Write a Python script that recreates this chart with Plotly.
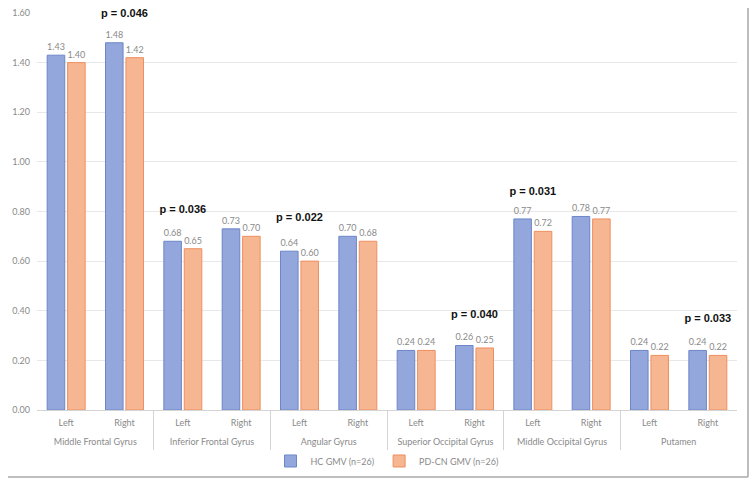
import plotly.graph_objects as go

regions = ["Middle Frontal Gyrus", "Inferior Frontal Gyrus", "Angular Gyrus",
           "Superior Occipital Gyrus", "Middle Occipital Gyrus", "Putamen"]
sides = ["Left", "Right"]
hc_gmv = [1.43, 1.48, 0.68, 0.73, 0.64, 0.70, 0.24, 0.26, 0.77, 0.78, 0.24, 0.24]
pd_gmv = [1.40, 1.42, 0.65, 0.70, 0.60, 0.68, 0.24, 0.25, 0.72, 0.77, 0.22, 0.22]
y_ticks = [0.0, 0.2, 0.4, 0.6, 0.8, 1.0, 1.2, 1.4, 1.6]

p_region = ["Middle Frontal Gyrus", "Inferior Frontal Gyrus", "Angular Gyrus",
            "Superior Occipital Gyrus", "Middle Occipital Gyrus", "Putamen"]
p_side = ["Right", "Left", "Left", "Right", "Left", "Right"]
p_y = [1.594, 0.804, 0.773, 0.383, 0.877, 0.366]
p_text = ["p = 0.046", "p = 0.036", "p = 0.022", "p = 0.040", "p = 0.031", "p = 0.033"]

keys = [f"{r} | {s}" for r in regions for s in sides]
side_labels = [s for _ in regions for s in sides]
p_keys = [f"{r} | {s}" for r, s in zip(p_region, p_side)]

n = len(keys)
ns = len(sides)
group_centers = [i * ns + (ns - 1) / 2 for i in range(len(regions))]
group_edges = [i * ns - 0.5 for i in range(len(regions) + 1)]

LAB = "#8a8a8a"
FONT = "Lato"
DIV = "#d4d4d4"

fig = go.Figure()
fig.add_trace(go.Bar(
    x=keys, y=hc_gmv, name="HC GMV (n=26)",
    marker=dict(color="rgb(147,167,220)", line=dict(color="rgb(108,134,200)", width=1)),
    text=[f"{v:.2f}" for v in hc_gmv], textposition="outside", constraintext="none",
    textfont=dict(family=FONT, size=9, color=LAB), cliponaxis=False,
))
fig.add_trace(go.Bar(
    x=keys, y=pd_gmv, name="PD-CN GMV (n=26)",
    marker=dict(color="rgb(246,182,146)", line=dict(color="rgb(238,143,95)", width=1)),
    text=[f"{v:.2f}" for v in pd_gmv], textposition="outside", constraintext="none",
    textfont=dict(family=FONT, size=9, color=LAB), cliponaxis=False,
))
fig.add_trace(go.Scatter(
    x=p_keys, y=p_y, mode="text", text=[f"<b>{t}</b>" for t in p_text],
    textfont=dict(family="Liberation Sans", size=11, color="#111111"),
    showlegend=False, hoverinfo="skip", cliponaxis=False,
))
# empty trace so the category-label band subplot is drawn
fig.add_trace(go.Scatter(x=[None], y=[None], xaxis="x2", yaxis="y2",
                         showlegend=False, hoverinfo="skip"))

fig.update_layout(
    width=756, height=485,
    margin=dict(l=37, r=19, t=13, b=8, autoexpand=False),
    paper_bgcolor="white", plot_bgcolor="white",
    barmode="group", bargap=0.30, bargroupgap=0.14,
    font=dict(family=FONT, size=9, color=LAB),
    legend=dict(orientation="h", x=0.5, xanchor="center", y=0.0345, yanchor="middle",
                font=dict(family=FONT, size=9, color=LAB), itemwidth=30,
                bgcolor="rgba(0,0,0,0)", traceorder="normal"),
    xaxis=dict(type="category", range=[-0.5, n - 0.5], showgrid=False, showline=True,
               linecolor=DIV, linewidth=1, automargin=False, ticks="",
               tickvals=keys, ticktext=side_labels, ticklabelstandoff=4,
               tickfont=dict(family=FONT, size=9, color=LAB), anchor="y"),
    yaxis=dict(domain=[0.1444, 1], range=[0, 1.6], tickvals=y_ticks, automargin=False,
               ticktext=[f"{v:.2f}" for v in y_ticks],
               showgrid=True, gridcolor="#e8e8e8", gridwidth=1, zeroline=False,
               showline=False, ticks="", ticklabelstandoff=6,
               tickfont=dict(family=FONT, size=9, color=LAB)),
    xaxis2=dict(type="linear", range=[-0.5, n - 0.5], anchor="y2", showline=False,
                zeroline=False, ticks="", tickvals=group_centers, ticktext=regions,
                ticklabelposition="inside", showgrid=False, automargin=False,
                tickfont=dict(family=FONT, size=9, color=LAB),
                minor=dict(tickmode="array", tickvals=group_edges, showgrid=True,
                           gridcolor=DIV, gridwidth=1, ticks="")),
    yaxis2=dict(domain=[0.058, 0.1444], range=[0, 1], showgrid=False, zeroline=False,
                showticklabels=False, showline=False, ticks="", automargin=False),
    shapes=[
        dict(type="line", xref="paper", yref="paper", x0=-0.0414, x1=1.0157,
             y0=0, y1=0, line=dict(color="#a8a8a8", width=1.5)),
        dict(type="line", xref="paper", yref="paper", x0=1.0157, x1=1.0157,
             y0=0, y1=1.0108, line=dict(color="#a8a8a8", width=1.5)),
    ],
)

fig.write_html("out.html")
